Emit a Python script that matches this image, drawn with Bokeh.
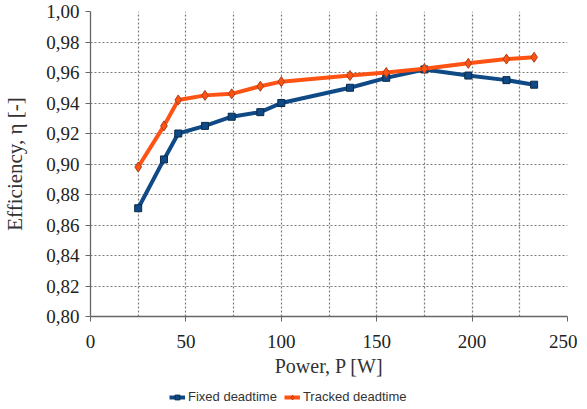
from bokeh.plotting import figure
from bokeh.models import Legend, LegendItem, FixedTicker, Range1d
from bokeh.layouts import column
from bokeh.embed import file_html
from bokeh.resources import INLINE

# ---- data ----
power = [25, 38.5, 46, 60, 74, 89, 100, 136, 155, 175, 198, 218, 232.5]
fixed_deadtime = [0.871, 0.903, 0.920, 0.925, 0.931, 0.934, 0.940, 0.950, 0.9565, 0.962, 0.958, 0.955, 0.952]
tracked_deadtime = [0.898, 0.925, 0.942, 0.945, 0.946, 0.951, 0.954, 0.958, 0.960, 0.9625, 0.966, 0.9688, 0.970]
x_tick_values = [0, 50, 100, 150, 200, 250]
x_grid_values = [0, 25, 50, 75, 100, 125, 150, 175, 200, 225, 250]
y_tick_values = [0.80, 0.82, 0.84, 0.86, 0.88, 0.90, 0.92, 0.94, 0.96, 0.98, 1.00]
y_tick_labels = ["0,80", "0,82", "0,84", "0,86", "0,88", "0,90", "0,92", "0,94", "0,96", "0,98", "1,00"]
series_names = ["Fixed deadtime", "Tracked deadtime"]

BLUE = "#0f4a86"
ORANGE = "#ff5314"
SERIF = "Liberation Serif"
SANS = "Liberation Sans"

p = figure(frame_width=477, frame_height=305,
           x_range=Range1d(0, 250), y_range=Range1d(0.80, 1.00),
           output_backend="svg", toolbar_location=None,
           min_border_left=90, min_border_top=11, min_border_right=10, min_border_bottom=66)
p.outline_line_color = None
p.background_fill_color = "white"
p.border_fill_color = "white"

# grids
p.xgrid.ticker = FixedTicker(ticks=x_grid_values)
p.ygrid.ticker = FixedTicker(ticks=y_tick_values)
for g in (p.xgrid, p.ygrid):
    g.grid_line_color = "#7a7a7a"
    g.grid_line_dash = "2 2"
    g.grid_line_width = 1.2

# axes
p.xaxis.ticker = FixedTicker(ticks=x_tick_values)
p.yaxis.ticker = FixedTicker(ticks=y_tick_values)
p.yaxis.major_label_overrides = {v: l for v, l in zip(y_tick_values, y_tick_labels)}
for ax in (p.xaxis, p.yaxis):
    ax.axis_line_color = "#666666"
    ax.axis_line_width = 1.3
    ax.major_tick_line_color = "#666666"
    ax.major_tick_out = 5
    ax.major_tick_in = 0
    ax.minor_tick_line_color = None
    ax.major_label_text_font = SERIF
    ax.major_label_text_font_size = "19px"
    ax.major_label_text_color = "#222222"
    ax.axis_label_text_font = SERIF
    ax.axis_label_text_font_style = "normal"
    ax.axis_label_text_color = "#333333"
p.xaxis.axis_label = "Power, P [W]"
p.xaxis.axis_label_text_font_size = "20px"
p.xaxis.major_label_standoff = 13
p.xaxis.axis_label_standoff = 4
p.yaxis.axis_label = "Efficiency, \u03b7 [-]"
p.yaxis.axis_label_text_font_size = "21px"
p.yaxis.major_label_standoff = 6
p.yaxis.axis_label_standoff = 16

# series
p.line(power, fixed_deadtime, line_color=BLUE, line_width=4)
p.scatter(power, fixed_deadtime, marker="square", size=7,
          fill_color=BLUE, line_color="#0a2a4a", line_width=1)
p.line(power, tracked_deadtime, line_color=ORANGE, line_width=4)
p.scatter(power, tracked_deadtime, marker="diamond", size=10,
          fill_color=ORANGE, line_color="#a8401a", line_width=1)

# legend strip below the chart (its series lie outside its visible range)
lg = figure(width=577, height=24, x_range=Range1d(0, 250), y_range=Range1d(0, 0.5),
            output_backend="svg", toolbar_location=None,
            x_axis_location=None, y_axis_location=None, min_border=0)
lg.grid.visible = False
lg.outline_line_color = None
lg.border_fill_color = "white"
lg.background_fill_color = "white"
k1 = lg.line(power, fixed_deadtime, line_color=BLUE, line_width=4)
s1 = lg.scatter(power, fixed_deadtime, marker="square", size=7,
                fill_color=BLUE, line_color="#0a2a4a", line_width=1)
k2 = lg.line(power, tracked_deadtime, line_color=ORANGE, line_width=4)
s2 = lg.scatter(power, tracked_deadtime, marker="diamond", size=9,
                fill_color=ORANGE, line_color="#a8401a", line_width=1)

legend = Legend(items=[LegendItem(label=series_names[0], renderers=[k1, s1]),
                       LegendItem(label=series_names[1], renderers=[k2, s2])],
                orientation="horizontal", location=(79, 2),
                label_text_font=SANS, label_text_font_size="13px",
                label_text_color="#333333", label_height=14,
                glyph_width=16, glyph_height=12, spacing=7,
                label_standoff=3, padding=1, margin=0,
                border_line_color=None, background_fill_alpha=0)
lg.add_layout(legend, "center")

open("out.html", "w").write(file_html(column(p, lg, spacing=0), INLINE))
